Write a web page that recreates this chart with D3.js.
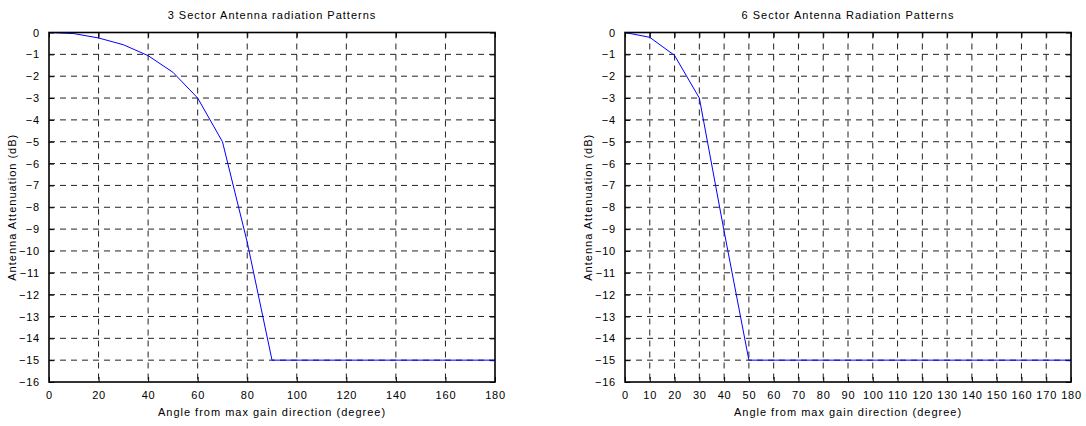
<!DOCTYPE html>
<html>
<head>
<meta charset="utf-8">
<script src="https://cdn.jsdelivr.net/npm/d3@7"></script>
<style>
  body { margin: 0; background: #fff; }
  text { font-family: "Liberation Sans", Arial, sans-serif; fill: #000; }
</style>
</head>
<body>
<script>
// 3 sector pattern (angle in degree, attenuation in dB)
const angles3 = [0, 10, 20, 30, 40, 50, 60, 70, 80, 90, 180];
const atten3 = [0, -0.05, -0.25, -0.56, -1.06, -1.82, -3, -5, -9.6, -15, -15];
// 6 sector pattern
const angles6 = [0, 10, 20, 30, 40, 50, 180];
const atten6 = [0, -0.22, -1.05, -3, -9.1, -15, -15];

const xTicks3 = d3.range(0, 181, 20);
const xTicks6 = d3.range(0, 181, 10);
const yTicks = d3.range(0, -17, -1);

const titles = ["3 Sector Antenna radiation Patterns", "6 Sector Antenna Radiation Patterns"];
const xLabel = "Angle from max gain direction (degree)";
const yLabel = "Antenna Attenuation (dB)";

const svg = d3.select('body').append('svg')
  .attr('width', 1086).attr('height', 426);

function drawPanel(left, right, angles, atten, xTicks, title) {
  const top = 32.5, bottom = 382;
  const x = d3.scaleLinear().domain([0, 180]).range([left, right]);
  const y = d3.scaleLinear().domain([-16, 0]).range([bottom, top]);
  const g = svg.append('g');

  // grid (dashed)
  g.selectAll('.vg').data(xTicks.slice(1, -1)).join('line')
    .attr('x1', d => x(d)).attr('x2', d => x(d))
    .attr('y1', top).attr('y2', bottom)
    .attr('stroke', '#222').attr('stroke-width', 1)
    .attr('stroke-dasharray', '6,5');
  g.selectAll('.hg').data(yTicks.slice(1, -1)).join('line')
    .attr('x1', left).attr('x2', right)
    .attr('y1', d => y(d)).attr('y2', d => y(d))
    .attr('stroke', '#222').attr('stroke-width', 1)
    .attr('stroke-dasharray', '6,5');

  // axes with inward ticks
  const xAx = g.append('g').attr('transform', `translate(0,${bottom})`)
    .call(d3.axisBottom(x).tickValues(xTicks).tickSize(-5).tickPadding(9).tickFormat(d3.format('d')));
  const xTop = g.append('g').attr('transform', `translate(0,${top})`)
    .call(d3.axisTop(x).tickValues(xTicks).tickSize(-5).tickFormat(''));
  const yAx = g.append('g').attr('transform', `translate(${left},0)`)
    .call(d3.axisLeft(y).tickValues(yTicks).tickSize(-5).tickPadding(9).tickFormat(d3.format('d')));
  const yRight = g.append('g').attr('transform', `translate(${right},0)`)
    .call(d3.axisRight(y).tickValues(yTicks).tickSize(-5).tickFormat(''));
  [xAx, xTop, yAx, yRight].forEach(a => {
    a.selectAll('.domain').remove();
    a.selectAll('line').attr('stroke', '#000');
    a.selectAll('text').attr('font-size', 11).attr('letter-spacing', 0.8)
      .style('font-family', '"Liberation Sans", Arial, sans-serif');
  });

  // the pattern
  const line = d3.line().x((d, i) => x(angles[i])).y(d => y(d));
  g.append('path').datum(atten)
    .attr('d', line)
    .attr('fill', 'none').attr('stroke', '#0000ff').attr('stroke-width', 1);

  // frame
  g.append('rect')
    .attr('x', left).attr('y', top)
    .attr('width', right - left).attr('height', bottom - top)
    .attr('fill', 'none').attr('stroke', '#000').attr('stroke-width', 1.6);

  g.append('text').attr('x', (left + right) / 2).attr('y', 19)
    .attr('text-anchor', 'middle').attr('font-size', 11).attr('letter-spacing', 1).text(title);
  g.append('text').attr('x', (left + right) / 2).attr('y', 416)
    .attr('text-anchor', 'middle').attr('font-size', 11).attr('letter-spacing', 1).text(xLabel);
  g.append('text')
    .attr('transform', `translate(${left - 33},${(top + bottom) / 2}) rotate(-90)`)
    .attr('text-anchor', 'middle').attr('font-size', 11).attr('letter-spacing', 1).text(yLabel);
}

drawPanel(49, 495, angles3, atten3, xTicks3, titles[0]);
drawPanel(625, 1071, angles6, atten6, xTicks6, titles[1]);
</script>
</body>
</html>
